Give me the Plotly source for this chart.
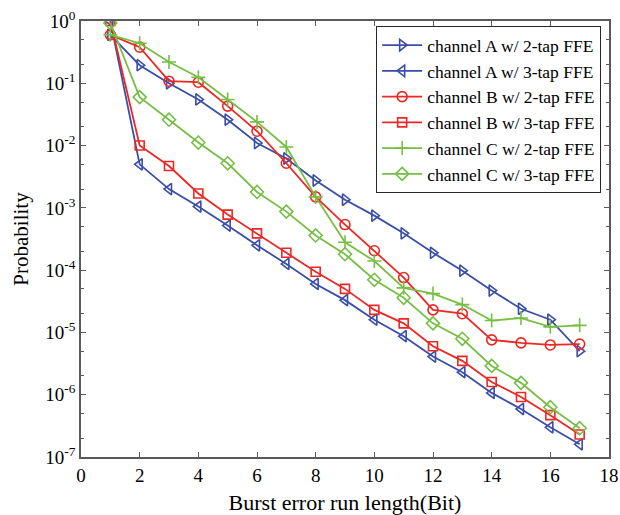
import plotly.graph_objects as go

x = list(range(1, 18))

a_2tap = [0.6, 0.195, 0.1, 0.055, 0.026, 0.011, 0.0062, 2.75e-3, 1.35e-3, 7.5e-4,
          3.9e-4, 1.9e-4, 9.8e-5, 4.7e-5, 2.4e-5, 1.6e-5, 5.0e-6]
a_3tap = [1.0, 5.0e-3, 2.0e-3, 1.05e-3, 5.2e-4, 2.5e-4, 1.26e-4, 6.0e-5, 3.3e-5, 1.6e-5,
          8.7e-6, 4.1e-6, 2.3e-6, 1.07e-6, 5.9e-7, 3.0e-7, 1.6e-7]
b_2tap = [0.6, 0.38, 0.108, 0.104, 0.043, 0.017, 0.0052, 1.5e-3, 5.4e-4, 2.05e-4,
          7.6e-5, 2.3e-5, 2.0e-5, 7.6e-6, 6.8e-6, 6.3e-6, 6.5e-6]
b_3tap = [1.0, 0.01, 4.7e-3, 1.7e-3, 7.8e-4, 3.9e-4, 1.9e-4, 9.4e-5, 5.0e-5, 2.3e-5,
          1.4e-5, 6.0e-6, 3.5e-6, 1.6e-6, 9.2e-7, 4.7e-7, 2.3e-7]
c_2tap = [0.6, 0.44, 0.22, 0.125, 0.055, 0.024, 0.0095, 1.5e-3, 2.8e-4, 1.4e-4,
          5.2e-5, 4.2e-5, 2.8e-5, 1.55e-5, 1.7e-5, 1.23e-5, 1.3e-5]
c_3tap = [0.93, 0.06, 0.026, 0.0112, 0.0052, 1.8e-3, 8.7e-4, 3.6e-4, 1.8e-4, 7.0e-5,
          3.6e-5, 1.4e-5, 7.9e-6, 2.9e-6, 1.55e-6, 6.3e-7, 2.9e-7]

names = ["channel A w/ 2-tap FFE", "channel A w/ 3-tap FFE",
         "channel B w/ 2-tap FFE", "channel B w/ 3-tap FFE",
         "channel C w/ 2-tap FFE", "channel C w/ 3-tap FFE"]

x_ticks = [0, 2, 4, 6, 8, 10, 12, 14, 16, 18]
y_exps = [0, -1, -2, -3, -4, -5, -6, -7]

BLUE = "rgb(58,78,168)"
RED = "rgb(236,40,36)"
GREEN = "rgb(118,190,68)"

series = [
    (a_2tap, BLUE, "triangle-right-open", 10),
    (a_3tap, BLUE, "triangle-left-open", 10),
    (b_2tap, RED, "circle-open", 10),
    (b_3tap, RED, "square-open", 9),
    (c_2tap, GREEN, "cross-thin-open", 10),
    (c_3tap, GREEN, "diamond-open", 10),
]

fig = go.Figure()
for (vals, col, sym, sz), nm in zip(series, names):
    fig.add_trace(go.Scatter(
        x=x, y=vals, name=nm, mode="lines+markers",
        line=dict(color=col, width=1.8),
        marker=dict(symbol=sym, size=sz, color=col, line=dict(color=col, width=1.6)),
    ))

FONT = "Liberation Serif, Times New Roman, serif"
AX = "rgb(90,90,90)"

fig.update_layout(
    width=620, height=515,
    margin=dict(l=81, r=11, t=21, b=58),
    paper_bgcolor="white", plot_bgcolor="white",
    font=dict(family=FONT, size=18, color="black"),
    showlegend=True,
    legend=dict(
        x=0.559, y=0.988, xanchor="left", yanchor="top",
        bgcolor="white", bordercolor="rgb(40,40,40)", borderwidth=1,
        font=dict(family=FONT, size=17.5, color="black"),
        tracegroupgap=0, itemwidth=40,
    ),
    xaxis=dict(
        range=[0, 18], tickvals=x_ticks, ticktext=[str(v) for v in x_ticks],
        ticks="inside", ticklen=5, tickcolor=AX, showline=True, linecolor=AX,
        linewidth=1.5, mirror="ticks", showgrid=False, zeroline=False,
        tickfont=dict(size=19), automargin=False,
        title=dict(text="Burst error run length(Bit)", font=dict(size=22), standoff=10),
    ),
    yaxis=dict(
        type="log", range=[-7, 0],
        tickvals=[10 ** e for e in y_exps],
        ticktext=["10<sup>%d</sup>" % e for e in y_exps],
        ticks="inside", ticklen=5, tickcolor=AX, showline=True, linecolor=AX,
        linewidth=1.5, mirror="ticks", showgrid=False, zeroline=False,
        minor=dict(ticks="inside", ticklen=3, tickcolor=AX, showgrid=False),
        tickfont=dict(size=19), automargin=False,
        title=dict(text="Probability", font=dict(size=21), standoff=11),
    ),
)

fig.write_html(
    "out.html",
    config={"displayModeBar": False},
    post_script="document.body.style.margin='0';document.body.style.overflow='hidden';",
)
